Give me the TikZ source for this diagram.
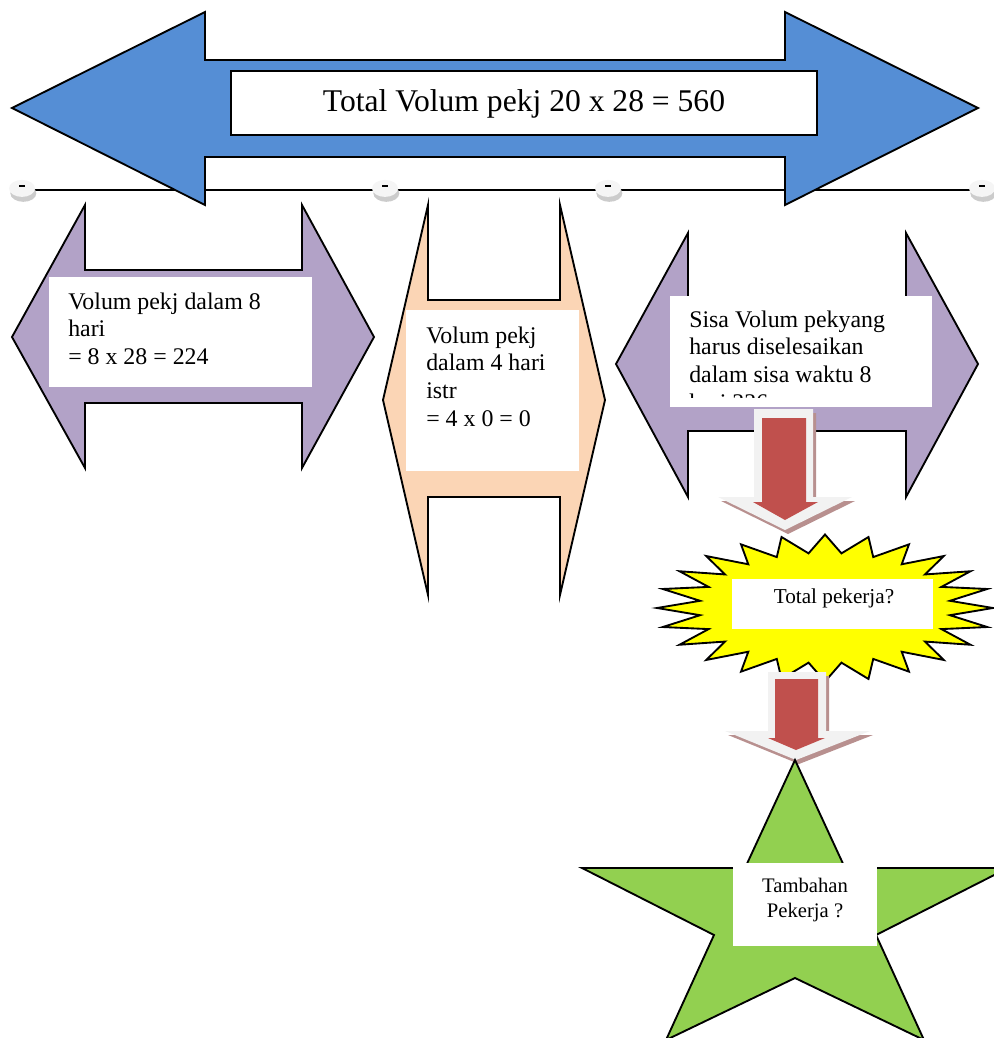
\documentclass[tikz,border=0pt]{standalone}
\usepackage{fontspec}
\setmainfont{Liberation Serif}
\definecolor{blueA}{RGB}{85,142,213}
\definecolor{purpleA}{RGB}{178,162,199}
\definecolor{orangeA}{RGB}{251,213,181}
\definecolor{redA}{RGB}{192,80,77}
\definecolor{rimA}{RGB}{242,242,242}
\definecolor{shadowA}{RGB}{184,144,143}
\definecolor{greenA}{RGB}{146,208,80}
\definecolor{yellowA}{RGB}{255,255,0}
\newcommand\mylines[2][l]{\begin{tabular}[t]{@{}#1@{}}#2\end{tabular}}
\begin{document}
\begin{tikzpicture}[x=0.75pt,y=-0.75pt,
  outl/.style={draw=black,line width=1.4pt,line join=miter},
  whitebox/.style={fill=white},
  boxtext/.style={inner sep=0pt,anchor=base west,font=\fontsize{17.9}{20.8}\selectfont},
  marker/.style={fill=gray!8},
  markershadow/.style={fill=gray!40},
  rim/.style={fill=rimA},
  arrshadow/.style={fill=shadowA},
  core/.style={fill=redA}]
\useasboundingbox (0,0) rectangle (993,1038);

% timeline
\coordinate (t1) at (22,190);
\coordinate (t2) at (385,190);
\coordinate (t3) at (608,190);
\coordinate (t4) at (982,190);
\coordinate (tend) at (993,190);
\draw[line width=1.1pt] (t1) -- (tend);
\foreach \p in {t1,t2,t3,t4}{
  \fill[markershadow] ([xshift=1pt,yshift=-2.5pt]\p) ellipse [x radius=13, y radius=8.5];
  \fill[marker] ([yshift=1.2pt]\p) ellipse [x radius=13, y radius=8.5];
  \draw[line width=0.8pt] ([xshift=-2.2pt,yshift=3pt]\p) -- ([xshift=2.2pt,yshift=3pt]\p);
}

% top blue double arrow
\draw[outl,fill=blueA] (12,108) -- (205,12) -- (205,60) -- (785,60) -- (785,12) -- (978,108)
  -- (785,205) -- (785,157) -- (205,157) -- (205,205) -- cycle;
\draw[whitebox,draw=black,line width=1.1pt] (231,71) rectangle (817,135);
\node[inner sep=0pt,font=\fontsize{23.7}{28}\selectfont] (title) at (524,104)
  {Total Volum pekj 20 x 28 = 560};

% left purple arrow
\draw[outl,fill=purpleA] (12,337) -- (85,205) -- (85,270) -- (302,270) -- (302,205) -- (374,337)
  -- (302,468) -- (302,403) -- (85,403) -- (85,468) -- cycle;
\fill[whitebox] (49,277) rectangle (312,387);
\node[boxtext] (b1) at (68,309) {\mylines{Volum pekj dalam 8\\hari\\= 8 x 28 = 224}};

% middle orange arrow
\draw[outl,fill=orangeA] (383,400) -- (428,205) -- (428,300) -- (560,300) -- (560,205) -- (605,400)
  -- (560,595) -- (560,497) -- (428,497) -- (428,595) -- cycle;
\fill[whitebox] (406,310) rectangle (579,471);
\node[boxtext] (b2) at (426,343) {\mylines{Volum pekj\\dalam 4 hari\\istr\\= 4 x 0 = 0}};

% right purple arrow
\draw[outl,fill=purpleA] (616,364) -- (688,233) -- (688,297) -- (906,297) -- (906,233) -- (978,364)
  -- (906,497) -- (906,431) -- (688,431) -- (688,497) -- cycle;
\fill[whitebox] (670,296) rectangle (932,407);
\begin{scope}
  \clip (670,296) rectangle (932,397);
  \node[boxtext] (b3) at (689,327) {\mylines{Sisa Volum pekyang\\harus diselesaikan\\dalam sisa waktu 8\\hari 336}};
\end{scope}

% first fat down arrow
\fill[arrshadow,shift={(3,4)}] (754,409) -- (813,409) -- (813,497) -- (852,497) -- (785,530) -- (718,497) -- (754,497) -- cycle;
\fill[rim] (754,409) -- (813,409) -- (813,497) -- (852,497) -- (785,530) -- (718,497) -- (754,497) -- cycle;
\fill[core] (762,418) -- (806,418) -- (806,502) -- (818,502) -- (785,520) -- (753,502) -- (762,502) -- cycle;

% starburst
\draw[outl,fill=yellowA,line join=miter,miter limit=20] (825,534.5)
  \foreach \i [evaluate=\i as \r using {mod(\i,2)==0 ? 1 : 0.75}] in {1,...,47} {
    -- ({825+168*\r*sin(\i*7.5)},{608-73.5*\r*cos(\i*7.5)}) } -- cycle;
\fill[whitebox] (732,579) rectangle (933,629);
\node[inner sep=0pt,anchor=base,font=\fontsize{15.9}{19}\selectfont] (q1) at (834,603) {Total pekerja?};

% second fat down arrow
\fill[arrshadow,shift={(3,4)}] (768,672) -- (826,672) -- (826,731) -- (870,731) -- (796,760) -- (725,731) -- (768,731) -- cycle;
\fill[rim] (768,672) -- (826,672) -- (826,731) -- (870,731) -- (796,760) -- (725,731) -- (768,731) -- cycle;
\fill[core] (775,679) -- (818,679) -- (818,738) -- (825,738) -- (796,750) -- (768,738) -- (775,738) -- cycle;

% green star
\draw[outl,fill=greenA] (795,760) -- (845,868) -- (1008,868) -- (876,935) -- (924,1040)
  -- (795,978) -- (666,1040) -- (714,935) -- (582,868) -- (745,868) -- cycle;
\fill[whitebox] (733,863) rectangle (877,946);
\node[inner sep=0pt,anchor=base,font=\fontsize{15.5}{18.8}\selectfont] (q2) at (805,892)
  {\mylines[c]{Tambahan\\Pekerja ?}};
\end{tikzpicture}
\end{document}
